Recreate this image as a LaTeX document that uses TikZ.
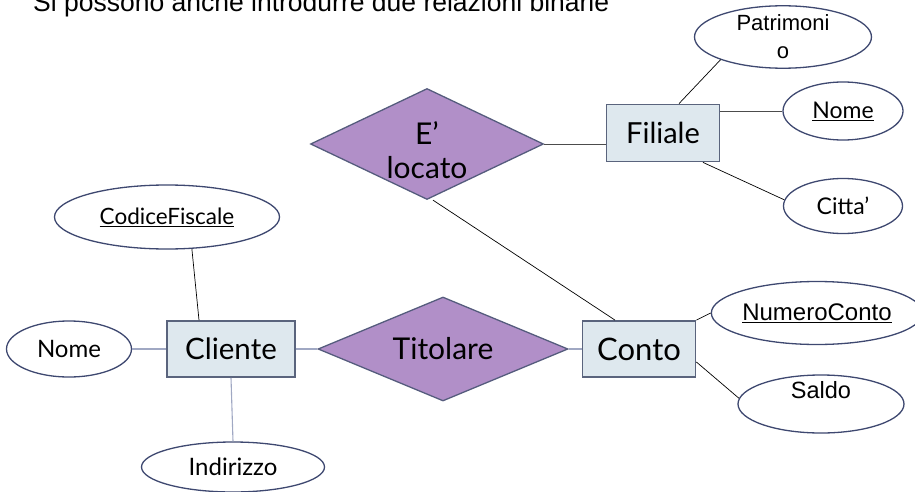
\documentclass[tikz,border=0pt]{standalone}
\usepackage{fontspec}
\setmainfont{Lato}
\newfontfamily\arialf{Liberation Sans}
\usetikzlibrary{shapes.geometric}
\definecolor{purpfill}{RGB}{177,143,200}
\definecolor{purpdraw}{RGB}{85,92,125}
\definecolor{entfill}{RGB}{222,232,238}
\definecolor{entdraw}{RGB}{90,100,125}
\definecolor{elldraw}{RGB}{62,72,112}
\definecolor{lightline}{RGB}{160,168,195}
\tikzset{
  rel/.style={diamond, draw=purpdraw, fill=purpfill, line width=1.3pt, inner sep=0pt},
  reltext/.style={align=center, font=\fontsize{30}{34}\selectfont},
  ent/.style={rectangle, draw=entdraw, fill=entfill, line width=1.8pt, inner sep=0pt, font=\fontsize{30}{34}\selectfont},
  attr/.style={ellipse, draw=elldraw, fill=white, line width=1.3pt, inner sep=0pt, font=\fontsize{23}{26}\selectfont},
  attra/.style={attr, font=\arialf\fontsize{24}{28}\selectfont},
  dk/.style={draw=black, line width=0.7pt},
  lt/.style={draw=lightline, line width=1.1pt},
  md/.style={draw=black!70, line width=0.8pt}
}
\begin{document}
\begin{tikzpicture}[x=1pt,y=-1pt]
\useasboundingbox (0,0) rectangle (915,492);
\node[anchor=base west, inner sep=0pt, font=\arialf\fontsize{26.5}{30}\selectfont] (title) at (33,12) {Si possono anche introdurre due relazioni binarie};

\node[rel, minimum width=233pt, minimum height=111pt, label={[reltext, yshift=-6pt]center:E’\\locato}] (eloc) at (427,144) {};
\node[rel, minimum width=250pt, minimum height=104pt, label={[reltext]center:Titolare}] (tit) at (443,349) {};

\node[ent, minimum width=113pt, minimum height=57pt, font=\fontsize{29}{34}\selectfont] (fil) at (663,133) {Filiale};
\node[ent, minimum width=128pt, minimum height=56pt, font=\fontsize{29.5}{34}\selectfont] (cli) at (231,349) {Cliente};
\node[ent, minimum width=113pt, minimum height=56pt, font=\fontsize{31}{34}\selectfont] (con) at (639,349) {Conto};

\node[attra, minimum width=177pt, minimum height=57pt, align=center, font=\arialf\fontsize{22}{28}\selectfont] (pat) at (783,37) {Patrimoni\\o};
\node[attr, minimum width=120pt, minimum height=58pt] (fnome) at (843,111) {\underline{Nome}};
\node[attr, minimum width=119pt, minimum height=55pt] (cit) at (843,206) {Citta’};
\node[attr, minimum width=225pt, minimum height=64pt, font=\fontsize{22.5}{26}\selectfont] (cf) at (167,217) {\underline{CodiceFiscale}};
\node[attr, minimum width=125pt, minimum height=56pt, font=\fontsize{24}{26}\selectfont] (cnome) at (69,349) {Nome};
\node[attr, minimum width=183pt, minimum height=50pt, font=\fontsize{24}{26}\selectfont] (ind) at (233,467) {Indirizzo};
\node[attra, minimum width=196pt, minimum height=63pt] (num) at (817,313) {\underline{NumeroConto}};
\node[attra, minimum width=166pt, minimum height=58pt, label={[font=\arialf\fontsize{23.5}{28}\selectfont, yshift=14pt]center:Saldo}] (sal) at (821,404) {};

% connectors
\draw[md] (eloc.east) -- (eloc.east -| fil.west);
\draw[dk] ([xshift=6pt]eloc.south) -- ([xshift=-24pt]con.north);
\draw[dk] ([xshift=16pt]fil.north) -- (pat.200);
\draw[md] (fnome.west -| fil.east) -- (fnome.west);
\draw[dk] ([xshift=40pt]fil.south) -- (cit.174);
\draw[dk] (cf.308) -- ([xshift=-32pt]cli.north);
\draw[lt] (cnome.east) -- (cli.west);
\draw[lt] (cli.south) -- (ind.north);
\draw[lt] (cli.east) -- (tit.west);
\draw[lt] (tit.east) -- (con.west);
\draw[dk] (con.north east) -- (num.west);
\draw[dk] ([yshift=-13pt]con.east) -- (sal.176);
\end{tikzpicture}
\end{document}
